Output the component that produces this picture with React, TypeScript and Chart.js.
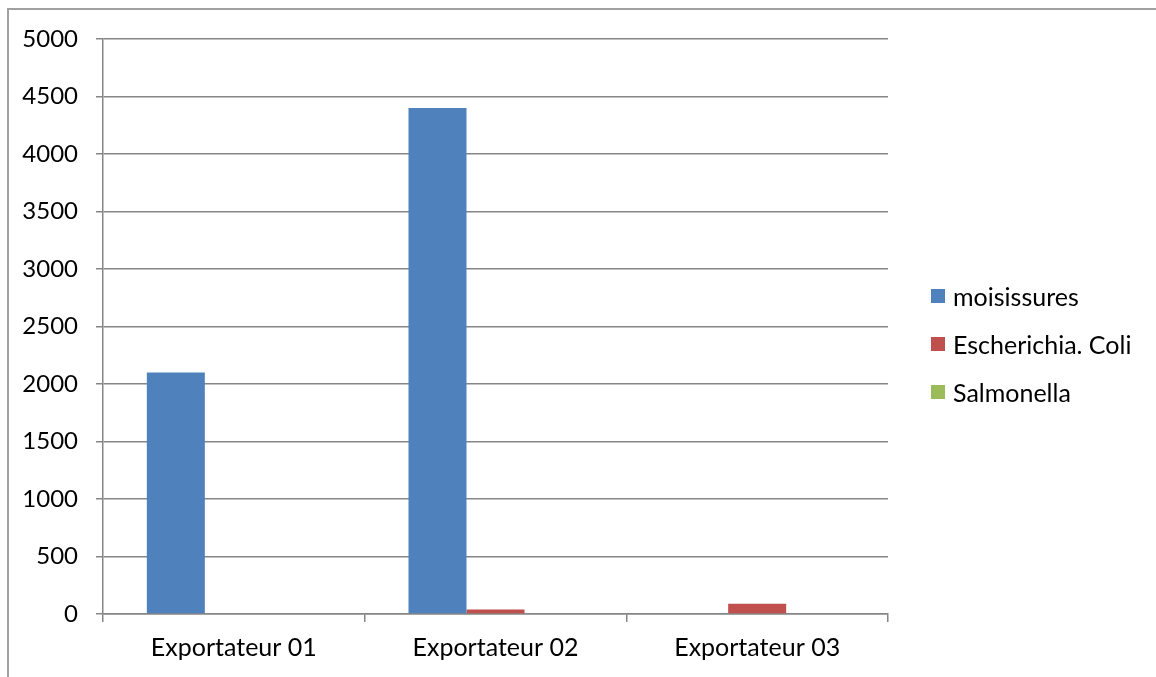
import React, { useEffect, useRef } from "react";
import { Chart, registerables } from "chart.js";

Chart.register(...registerables);

const categories = ["Exportateur 01", "Exportateur 02", "Exportateur 03"];
const moisissures = [2100, 4400, 0];
const eColi = [0, 40, 90];
const salmonella = [0, 0, 0];
const seriesNames = ["moisissures", "Escherichia. Coli", "Salmonella"];
const seriesColors = ["#4F81BD", "#C0504D", "#9BBB59"];

const FONT = "Lato, 'Open Sans', sans-serif";
const FS = 24;

export default function App() {
  const ref = useRef<HTMLCanvasElement | null>(null);

  useEffect(() => {
    if (!ref.current) return;
    const chart = new Chart(ref.current, {
      type: "bar",
      data: {
        labels: categories,
        datasets: [moisissures, eColi, salmonella].map((d, i) => ({
          label: seriesNames[i],
          data: d,
          backgroundColor: seriesColors[i],
          borderWidth: 0,
          categoryPercentage: 0.665,
          barPercentage: 1,
        })),
      },
      options: {
        responsive: false,
        animation: false,
        layout: { padding: { left: 0, top: 39, right: 268, bottom: 0 } },
        plugins: { legend: { display: false }, tooltip: { enabled: false } },
        scales: {
          x: {
            offset: true,
            grid: {
              offset: true,
              drawOnChartArea: false,
              color: "#868686",
              lineWidth: 1.5,
              tickLength: 8,
            },
            border: { color: "#868686", width: 1.5 },
            ticks: { color: "#000", font: { family: FONT, size: FS + 1 }, padding: 11 },
            afterFit: (s: any) => { s.height = 63; },
          },
          y: {
            min: 0,
            max: 5000,
            ticks: {
              stepSize: 500,
              color: "#000",
              font: { family: FONT, size: FS },
              padding: 18,
              callback: (v: any) => String(v),
            },
            grid: { color: "#868686", lineWidth: 1.5, tickLength: 7 },
            border: { color: "#868686", width: 1.5 },
            afterFit: (s: any) => { s.width = 103; },
          },
        },
      },
    });
    return () => chart.destroy();
  }, []);

  return (
    <div style={{ position: "fixed", left: 0, top: 0, width: 1156, height: 677, overflow: "hidden", background: "#fff" }}>
      <div style={{ position: "absolute", left: 7, top: 8, width: 1300, height: 900, border: "2px solid #a0a0a0" }} />
      <canvas ref={ref} width={1156} height={677} style={{ position: "absolute", left: 0, top: 0 }} />
      {seriesNames.map((n, i) => (
        <div key={n} style={{ position: "absolute", left: 931, top: 281 + i * 48, height: 30, display: "flex", alignItems: "center", fontFamily: FONT, fontSize: FS + 1, color: "#000" }}>
          <span style={{ display: "inline-block", width: 14, height: 14, background: seriesColors[i], marginRight: 8 }} />
          {n}
        </div>
      ))}
    </div>
  );
}
